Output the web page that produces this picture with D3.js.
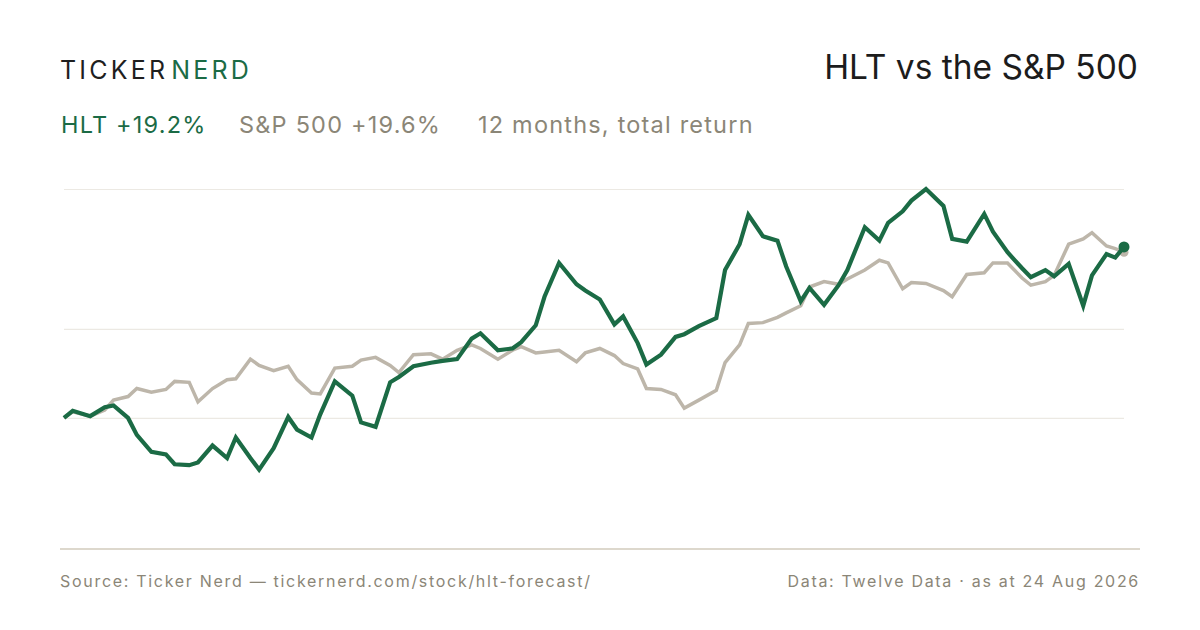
<!DOCTYPE html>
<html>
<head>
<meta charset="utf-8">
<script src="https://cdn.jsdelivr.net/npm/d3@7"></script>
<style>
  body { margin: 0; background: #fff; }
  text { font-family: Inter, "Noto Sans", sans-serif; }
</style>
</head>
<body>
<div id="viz"></div>
<script>
// every third trading day, plus the last close
const dates = [
  '2025-08-25', '2025-08-28', '2025-09-03', '2025-09-08', '2025-09-11', '2025-09-16', '2025-09-19',
  '2025-09-24', '2025-09-29', '2025-10-02', '2025-10-07', '2025-10-10', '2025-10-15', '2025-10-20',
  '2025-10-23', '2025-10-28', '2025-10-31', '2025-11-05', '2025-11-10', '2025-11-13', '2025-11-18',
  '2025-11-21', '2025-11-26', '2025-12-02', '2025-12-05', '2025-12-10', '2025-12-15', '2025-12-18',
  '2025-12-23', '2025-12-29', '2026-01-02', '2026-01-07', '2026-01-12', '2026-01-15', '2026-01-21',
  '2026-01-26', '2026-01-29', '2026-02-03', '2026-02-06', '2026-02-11', '2026-02-17', '2026-02-20',
  '2026-02-25', '2026-03-02', '2026-03-05', '2026-03-10', '2026-03-13', '2026-03-18', '2026-03-23',
  '2026-03-26', '2026-03-31', '2026-04-06', '2026-04-09', '2026-04-14', '2026-04-17', '2026-04-22',
  '2026-04-27', '2026-04-30', '2026-05-05', '2026-05-08', '2026-05-13', '2026-05-18', '2026-05-21',
  '2026-05-27', '2026-06-01', '2026-06-04', '2026-06-09', '2026-06-12', '2026-06-17', '2026-06-23',
  '2026-06-26', '2026-07-01', '2026-07-07', '2026-07-10', '2026-07-15', '2026-07-20', '2026-07-23',
  '2026-07-28', '2026-07-31', '2026-08-05', '2026-08-10', '2026-08-13', '2026-08-18', '2026-08-21',
  '2026-08-24',
];

// total return since start, %
const hltReturn = [
  0.0, 0.8, 0.2, 1.2, 1.4, 0.0, -1.9, -3.8, -4.1, -5.2, -5.3, -5.0, -3.1, -4.5,
  -2.2, -4.5, -5.8, -3.4, 0.1, -1.3, -2.2, 0.4, 4.1, 2.5, -0.5, -1.0, 4.0, 4.6,
  5.8, 6.2, 6.4, 6.6, 8.9, 9.5, 7.6, 7.8, 8.5, 10.4, 13.6, 17.4, 15.0, 14.3,
  13.3, 10.5, 11.4, 8.4, 6.0, 7.1, 9.1, 9.4, 10.3, 11.2, 16.6, 19.5, 22.8, 20.4,
  19.9, 17.0, 13.1, 14.6, 12.7, 14.9, 16.6, 21.4, 19.9, 21.9, 23.2, 24.4, 25.7, 23.8,
  20.1, 19.8, 22.9, 20.9, 18.6, 16.8, 15.8, 16.6, 15.9, 17.3, 12.6, 16.0, 18.4, 18.0,
  19.2,
];

const spxReturn = [
  0.0, 0.7, 0.2, 0.9, 2.0, 2.4, 3.3, 2.9, 3.2, 4.1, 4.0, 1.8, 3.3, 4.3,
  4.4, 6.6, 5.9, 5.3, 5.8, 4.3, 2.8, 2.7, 5.6, 5.8, 6.5, 6.8, 5.9, 5.1,
  7.1, 7.2, 6.6, 7.6, 8.2, 7.8, 6.6, 7.6, 8.0, 7.3, 7.4, 7.6, 6.3, 7.3,
  7.8, 7.0, 6.1, 5.5, 3.3, 3.2, 2.6, 1.1, 2.0, 3.1, 6.2, 8.2, 10.6, 10.7,
  11.3, 11.8, 12.6, 14.7, 15.3, 15.0, 15.6, 16.6, 17.7, 17.4, 14.5, 15.2, 15.1, 14.3,
  13.6, 16.1, 16.3, 17.4, 17.4, 15.7, 14.9, 15.3, 16.0, 19.5, 20.1, 20.8, 19.3, 19.0,
  18.6,
];

const yDomain = [-14.6, 25.7];
const gridValues = [0, 10, 25.7];

const headline = [
  {text: 'HLT +19.2%', color: '#1b6b45', x: 61},
  {text: 'S&P 500 +19.6%', color: '#8b8677', x: 239},
  {text: '12 months, total return', color: '#8b8677', x: 478},
];

const width = 1200;
const height = 630;
const plot = {left: 64, right: 1124, top: 189, bottom: 548};
const green = '#1b6b45';
const grey = '#bdb6aa';
const mutedText = '#8b8677';

const parse = d3.utcParse('%Y-%m-%d');
const hlt = dates.map((d, i) => ({date: parse(d), value: hltReturn[i]}));
const spx = dates.map((d, i) => ({date: parse(d), value: spxReturn[i]}));

const svg = d3.select('#viz')
  .append('svg')
  .attr('width', width)
  .attr('height', height)
  .style('display', 'block');

svg.append('rect').attr('width', width).attr('height', height).attr('fill', '#fff');

const x = d3.scaleUtc()
  .domain(d3.extent(hlt, d => d.date))
  .range([plot.left, plot.right]);

const y = d3.scaleLinear()
  .domain(yDomain)
  .range([plot.bottom, plot.top]);

// brand
const brand = svg.append('text')
  .attr('x', 60)
  .attr('y', 79)
  .style('font-size', '25px')
  .style('letter-spacing', '3.2px');
brand.append('tspan').attr('fill', '#1f1f1f').text('TICKER');
brand.append('tspan').attr('fill', green).attr('dx', 3).text('NERD');

svg.append('text')
  .attr('x', 1138)
  .attr('y', 79)
  .attr('text-anchor', 'end')
  .attr('fill', '#1c1c1c')
  .style('font-size', '33.5px')
  .text('HLT vs the S&P 500');

svg.selectAll('.headline')
  .data(headline)
  .join('text')
  .attr('class', 'headline')
  .attr('x', d => d.x)
  .attr('y', 133)
  .attr('fill', d => d.color)
  .style('font-size', '23.5px')
  .style('letter-spacing', '1.2px')
  .text(d => d.text);

// gridlines
const grid = svg.append('g')
  .attr('transform', `translate(${plot.left},0)`)
  .call(d3.axisLeft(y)
    .tickValues(gridValues)
    .tickSize(-(plot.right - plot.left))
    .tickFormat(''));
grid.select('.domain').remove();
grid.selectAll('.tick line').attr('stroke', '#ece9e3').attr('stroke-width', 1.2);

const line = d3.line()
  .x(d => x(d.date))
  .y(d => y(d.value));

svg.append('path')
  .attr('d', line(spx))
  .attr('fill', 'none')
  .attr('stroke', grey)
  .attr('stroke-width', 3.5);

svg.append('circle')
  .attr('cx', x(spx[spx.length - 1].date))
  .attr('cy', y(spx[spx.length - 1].value))
  .attr('r', 4.5)
  .attr('fill', grey);

svg.append('path')
  .attr('d', line(hlt))
  .attr('fill', 'none')
  .attr('stroke', green)
  .attr('stroke-width', 4.2);

svg.append('circle')
  .attr('cx', x(hlt[hlt.length - 1].date))
  .attr('cy', y(hlt[hlt.length - 1].value))
  .attr('r', 5.5)
  .attr('fill', green);

// footer
svg.append('line')
  .attr('x1', 60).attr('x2', 1140)
  .attr('y1', 549).attr('y2', 549)
  .attr('stroke', '#ddd8cd')
  .attr('stroke-width', 2);

svg.append('text')
  .attr('x', 60)
  .attr('y', 587)
  .attr('fill', mutedText)
  .style('font-size', '16px')
  .style('letter-spacing', '1.7px')
  .text('Source: Ticker Nerd — tickernerd.com/stock/hlt-forecast/');

svg.append('text')
  .attr('x', 1140)
  .attr('y', 587)
  .attr('text-anchor', 'end')
  .attr('fill', mutedText)
  .style('font-size', '16px')
  .style('letter-spacing', '1.7px')
  .text('Data: Twelve Data · as at 24 Aug 2026');
</script>
</body>
</html>
